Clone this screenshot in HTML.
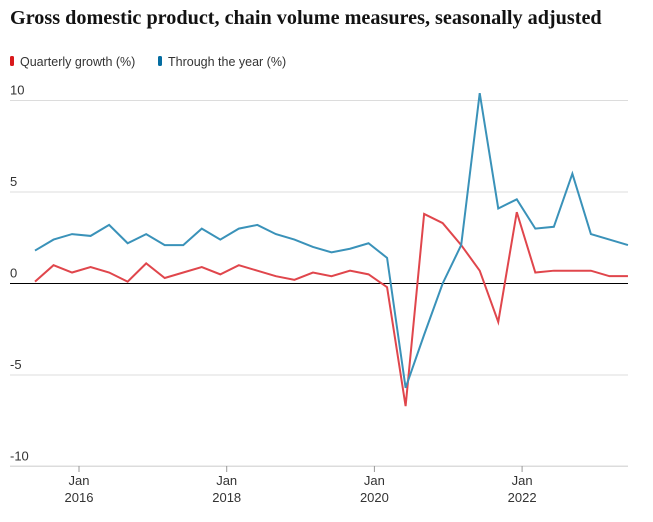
<!DOCTYPE html>
<html><head><meta charset="utf-8"><style>
body{margin:0;background:#fff;width:653px;height:517px;overflow:hidden;font-family:"Liberation Sans",sans-serif}
</style></head><body>
<svg width="653" height="517" id="chart">
<text x="10" y="24" font-family="Liberation Serif,serif" font-weight="bold" font-size="20.2" fill="#121212">Gross domestic product, chain volume measures, seasonally adjusted</text>
<g>
<rect x="10" y="56" width="4" height="10" rx="1.5" fill="#d9191c"/>
<text x="20" y="66" font-size="12.5" fill="#333">Quarterly growth (%)</text>
<rect x="158" y="56" width="4" height="10" rx="1.5" fill="#056da1"/>
<text x="168" y="66" font-size="12.5" fill="#333">Through the year (%)</text>
</g>
<g id="grid"></g><g id="series"></g>
</svg>
<script>
const yTicks=[10,5,0,-5,-10];
const xTickYears=["2016","2018","2020","2022"];
const quarterly=[0.1,1.0,0.6,0.9,0.6,0.1,1.1,0.3,0.6,0.9,0.5,1.0,0.7,0.4,0.2,0.6,0.4,0.7,0.5,-0.2,-6.7,3.8,3.3,2.1,0.7,-2.1,3.9,0.6,0.7,0.7,0.7,0.4,0.4];
const throughYear=[1.8,2.4,2.7,2.6,3.2,2.2,2.7,2.1,2.1,3.0,2.4,3.0,3.2,2.7,2.4,2.0,1.7,1.9,2.2,1.4,-5.7,-2.8,0.0,2.1,10.4,4.1,4.6,3.0,3.1,6.0,2.7,2.4,2.1];
const NS="http://www.w3.org/2000/svg";
const Y=v=>283.5-v*18.3;
const X=i=>35+i*18.53;
const XT=i=>79+i*147.7;
const grid=document.getElementById('grid'),ser=document.getElementById('series');
function mk(t,a,p){const e=document.createElementNS(NS,t);for(const k in a)e.setAttribute(k,a[k]);p.appendChild(e);return e;}
yTicks.forEach(v=>{
  const l=mk('line',{x1:10,x2:628,y1:Y(v),y2:Y(v),stroke:v===0?'#000':'#dcdcdc','stroke-width':1,'shape-rendering':'crispEdges'},grid);
  
  
  const t=mk('text',{x:10,y:Y(v)-6,'font-size':13,fill:'#333'},grid);
  t.textContent=String(v);
  
  
});
const ax=mk('line',{x1:10,x2:628,y1:466,y2:466,stroke:'#dcdcdc','shape-rendering':'crispEdges'},grid);


xTickYears.forEach((yr,i)=>{
  const x=XT(i);
  const tk=mk('line',{x1:x,x2:x,y1:466,y2:472,stroke:'#999'},grid);
  
  
  const a=mk('text',{x:x,y:485,'font-size':13,fill:'#333','text-anchor':'middle'},grid);
  a.textContent='Jan';
  
  
  const b=mk('text',{x:x,y:502,'font-size':13,fill:'#333','text-anchor':'middle'},grid);
  b.textContent=yr;
  
  
});
function line(arr,c,n){
  const p=mk('polyline',{points:arr.map((v,i)=>X(i)+','+Y(v)).join(' '),fill:'none',stroke:c,'stroke-width':2,'stroke-linejoin':'miter'},ser);
  
  
}
line(quarterly,'#e0464c','quarterly-growth-line');
line(throughYear,'#3a92b9','through-the-year-line');
</script>
</body></html>
